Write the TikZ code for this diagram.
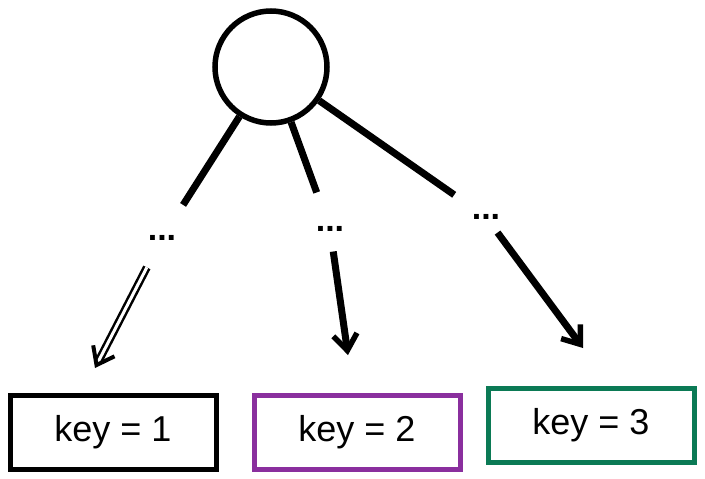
\documentclass[tikz,border=0pt]{standalone}
\usepackage{fontspec}
\setmainfont{Liberation Sans}
\usetikzlibrary{arrows.meta}
\definecolor{kpurple}{HTML}{8A2F9E}
\definecolor{kgreen}{HTML}{0B7A55}
\tikzset{
  keybox/.style={draw, line width=5pt, minimum width=206pt, minimum height=74pt, inner sep=0pt, font=\fontsize{36}{40}\selectfont},
  dotsnode/.style={inner sep=0pt, font=\bfseries\fontsize{34}{36}\selectfont},
  edge/.style={line width=7pt},
  arr/.style={line width=7pt, -{Straight Barb[length=16pt,width=24pt,line width=5.5pt]}},
}
\begin{document}
\begin{tikzpicture}[x=1pt,y=-1pt]
\useasboundingbox (0,0) rectangle (705,479);
\node[draw, circle, line width=5.5pt, minimum size=112pt, inner sep=0pt] (root) at (271,67) {};
\node[dotsnode] (d1) at (162,238) {...};
\node[dotsnode] (d2) at (330,229) {...};
\node[dotsnode] (d3) at (486,217) {...};
\node[keybox] (k1) at (113,432) {key = 1};
\node[keybox, draw=kpurple] (k2) at (357,432) {key = 2};
\node[keybox, draw=kgreen] (k3) at (591,425) {key = 3};
\coordinate (a1) at (95,368);
\coordinate (a2) at (348,355);
\coordinate (a3) at (583,348);
\draw[edge, shorten >=36pt] (root) -- (d1);
\draw[edge, shorten >=36pt] (root) -- (d2);
\draw[edge, shorten >=34pt] (root) -- (d3);
\draw[line width=2.5pt, double, double distance=3pt, shorten <=30pt, -{Straight Barb[length=16pt,width=24pt,line width=4pt]}] (d1) -- (a1);
\draw[arr, shorten <=20pt] (d2) -- (a2);
\draw[arr, shorten <=16pt] (d3) -- (a3);
\end{tikzpicture}
\end{document}
